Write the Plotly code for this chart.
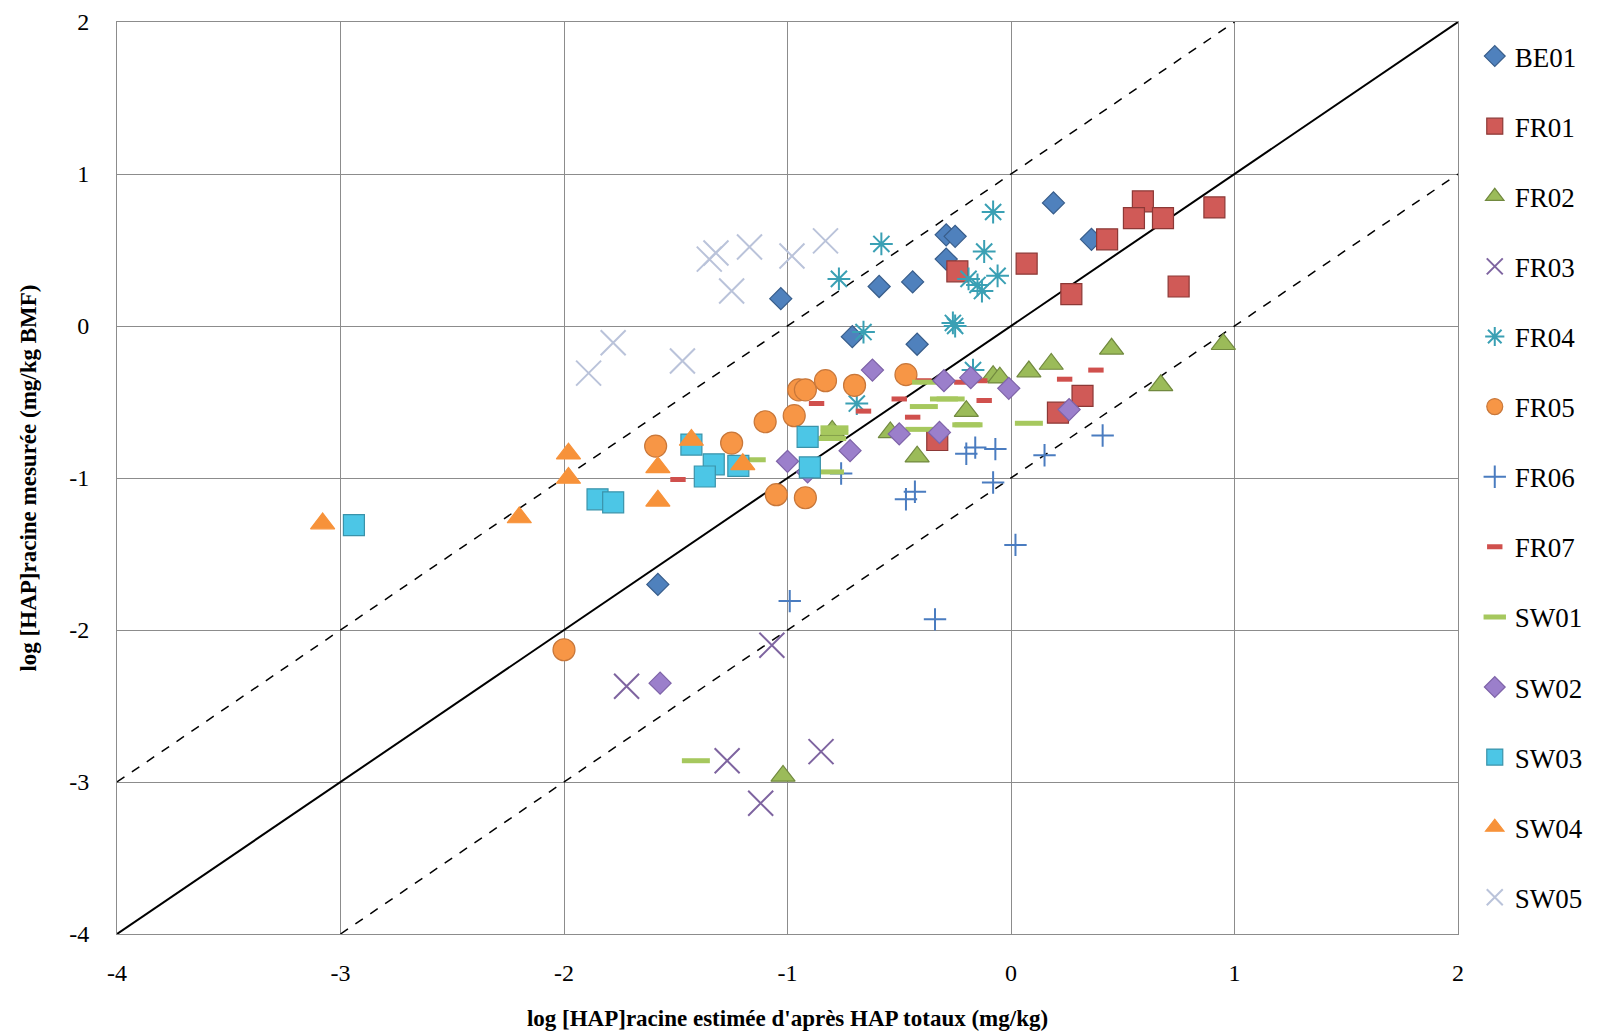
import plotly.graph_objects as go

# series names
series = ["BE01", "FR01", "FR02", "FR03", "FR04", "FR05", "FR06",
          "FR07", "SW01", "SW02", "SW03", "SW04", "SW05"]

# estimated log values (x) and measured log values (y) per series
be01_x = [0.19, 0.36, -0.29, -0.25, -0.29, -1.03, -0.59, -0.44, -0.71, -0.42, -1.58]
be01_y = [0.81, 0.57, 0.60, 0.59, 0.44, 0.18, 0.26, 0.29, -0.07, -0.12, -1.70]

fr01_x = [0.59, 0.55, 0.68, 0.91, 0.43, 0.07, 0.27, 0.75, 0.32, 0.21, -0.24, -0.33]
fr01_y = [0.82, 0.71, 0.71, 0.78, 0.57, 0.41, 0.21, 0.26, -0.46, -0.57, 0.36, -0.75]

fr02_x = [0.45, 0.95, 0.67, 0.18, 0.08, -0.20, -0.08, -0.05, -0.54, -0.42, -0.80, -1.02]
fr02_y = [-0.15, -0.12, -0.39, -0.25, -0.30, -0.56, -0.33, -0.34, -0.70, -0.86, -0.69, -2.96]

fr03_x = [-1.07, -1.72, -1.27, -0.85, -1.12]
fr03_y = [-2.10, -2.37, -2.86, -2.80, -3.14]

fr04_x = [-0.58, -0.77, -0.08, -0.12, -0.06, -0.19, -0.15, -0.13, -0.26, -0.25, -0.66, -0.69, -0.17]
fr04_y = [0.54, 0.31, 0.75, 0.49, 0.33, 0.31, 0.27, 0.23, 0.02, 0.00, -0.04, -0.51, -0.29]

fr05_x = [-0.95, -0.92, -0.83, -0.70, -0.47, -1.10, -0.97, -1.59, -1.25, -1.05, -0.92, -2.00]
fr05_y = [-0.42, -0.42, -0.36, -0.39, -0.32, -0.63, -0.59, -0.79, -0.77, -1.11, -1.13, -2.13]

fr06_x = [-0.76, -0.20, -0.16, -0.07, -0.08, -0.47, -0.43, 0.02, 0.15, 0.41, -0.99, -0.34]
fr06_y = [-0.97, -0.84, -0.80, -0.81, -1.03, -1.14, -1.09, -1.44, -0.85, -0.72, -1.81, -1.93]

fr07_x = [-0.87, -0.66, -0.50, -0.44, -0.39, -0.22, -0.14, -0.12, -1.49, 0.38, 0.24]
fr07_y = [-0.51, -0.56, -0.48, -0.60, -0.36, -0.37, -0.36, -0.49, -1.01, -0.29, -0.35]

sw01_x = [-0.39, -0.30, -0.19, 0.08, -0.38, -0.41, -0.79, -0.79, -0.80, -0.81, -1.16, -0.20, -0.27, -1.41]
sw01_y = [-0.53, -0.48, -0.65, -0.64, -0.37, -0.68, -0.67, -0.70, -0.74, -0.96, -0.88, -0.65, -0.48, -2.86]

sw02_x = [-0.62, -0.30, -0.18, -0.01, -0.50, -0.32, -0.72, -1.00, -0.91, 0.26, -1.57]
sw02_y = [-0.29, -0.36, -0.34, -0.41, -0.71, -0.70, -0.82, -0.89, -0.96, -0.55, -2.35]

sw03_x = [-2.94, -1.85, -1.78, -1.43, -1.33, -1.37, -1.22, -0.91, -0.90]
sw03_y = [-1.31, -1.14, -1.16, -0.78, -0.91, -0.99, -0.92, -0.73, -0.93]

sw04_x = [-3.08, -2.20, -1.98, -1.98, -1.58, -1.58, -1.43, -1.20]
sw04_y = [-1.30, -1.26, -0.84, -1.00, -1.15, -0.93, -0.75, -0.91]

sw05_x = [-1.35, -1.32, -1.17, -0.98, -0.83, -1.25, -1.78, -1.89, -1.47]
sw05_y = [0.44, 0.48, 0.52, 0.46, 0.56, 0.23, -0.11, -0.31, -0.23]

# axis ticks (hyphen minus as in the original)
tick_vals = [-4, -3, -2, -1, 0, 1, 2]
tick_text = ["-4", "-3", "-2", "-1", "0", "1", "2"]

# reference lines 1:1 and +/- 1 log unit
line_x = [-4, 2]
upper_x = [-4, 1]
lower_x = [-3, 2]

xs = [be01_x, fr01_x, fr02_x, fr03_x, fr04_x, fr05_x, fr06_x,
      fr07_x, sw01_x, sw02_x, sw03_x, sw04_x, sw05_x]
ys = [be01_y, fr01_y, fr02_y, fr03_y, fr04_y, fr05_y, fr06_y,
      fr07_y, sw01_y, sw02_y, sw03_y, sw04_y, sw05_y]

styles = [
    dict(symbol="diamond", size=17, color="#4F81BD", line=dict(color="#385D8A", width=1.2)),
    dict(symbol="square", size=21, color="#D05A57", line=dict(color="#8C3836", width=1.2)),
    dict(symbol="triangle-up", size=21, color="#9BBB59", line=dict(color="#71893F", width=1.2)),
    dict(symbol="x-thin", size=25, color="#7E64A0", line=dict(color="#7E64A0", width=2)),
    dict(symbol="asterisk", size=19, color="#3AA0B4", line=dict(color="#3AA0B4", width=2)),
    dict(symbol="circle", size=22, color="#F79646", line=dict(color="#C8773A", width=1.2)),
    dict(symbol="cross-thin", size=16, color="#4A7CC0", line=dict(color="#4A7CC0", width=2)),
    dict(symbol="line-ew", size=11, color="#D0504D", line=dict(color="#D0504D", width=5)),
    dict(symbol="line-ew", size=20, color="#A6C85E", line=dict(color="#A6C85E", width=5)),
    dict(symbol="diamond", size=17, color="#9B7FCB", line=dict(color="#7E63A8", width=1.2)),
    dict(symbol="square", size=21, color="#4CC6E6", line=dict(color="#3A93AA", width=1.2)),
    dict(symbol="triangle-up", size=21, color="#F7923A", line=dict(color="#F7923A", width=1.2)),
    dict(symbol="x-thin", size=25, color="#BAC3DA", line=dict(color="#BAC3DA", width=2)),
]

fig = go.Figure()

fig.add_trace(go.Scatter(x=line_x, y=line_x, mode="lines", showlegend=False,
                         line=dict(color="black", width=2), hoverinfo="skip"))
fig.add_trace(go.Scatter(x=upper_x, y=[v + 1 for v in upper_x], mode="lines", showlegend=False,
                         line=dict(color="black", width=1.5, dash="dash"), hoverinfo="skip"))
fig.add_trace(go.Scatter(x=lower_x, y=[v - 1 for v in lower_x], mode="lines", showlegend=False,
                         line=dict(color="black", width=1.5, dash="dash"), hoverinfo="skip"))

for name, x, y, st in zip(series, xs, ys, styles):
    fig.add_trace(go.Scatter(x=x, y=y, mode="markers", name=name, legendgroup=name,
                             marker=st))

serif = "Liberation Serif"
fig.update_layout(
    width=1600, height=1033,
    paper_bgcolor="white", plot_bgcolor="white",
    margin=dict(l=109, r=150, t=14, b=107, autoexpand=False),
    font=dict(family=serif, size=22, color="black"),
    legend=dict(x=1.0125, xanchor="left", y=0.989, yanchor="top",
                font=dict(family=serif, size=27), tracegroupgap=32,
                itemwidth=30, bgcolor="rgba(0,0,0,0)", maxheight=1.0),
)
fig.update_xaxes(range=[-4, 2], tickvals=tick_vals, ticktext=tick_text,
                 showgrid=True, gridcolor="#8C8C8C", gridwidth=1,
                 zeroline=False, showline=True, linecolor="#8C8C8C", mirror=True,
                 ticks="", ticklabelstandoff=17, tickfont=dict(size=24),
                 ticklabeloverflow="allow",
                 title=dict(text="<b>log [HAP]racine estimée d'après HAP totaux (mg/kg)</b>",
                            font=dict(size=23), standoff=25))
fig.update_yaxes(range=[-4, 2], tickvals=tick_vals, ticktext=tick_text,
                 showgrid=True, gridcolor="#8C8C8C", gridwidth=1,
                 zeroline=False, showline=True, linecolor="#8C8C8C", mirror=True,
                 ticks="", ticklabelstandoff=22, tickfont=dict(size=24),
                 ticklabeloverflow="allow",
                 title=dict(text="<b>log [HAP]racine mesurée (mg/kg BMF)</b>",
                            font=dict(size=23), standoff=26))

fig.write_html("out.html")
